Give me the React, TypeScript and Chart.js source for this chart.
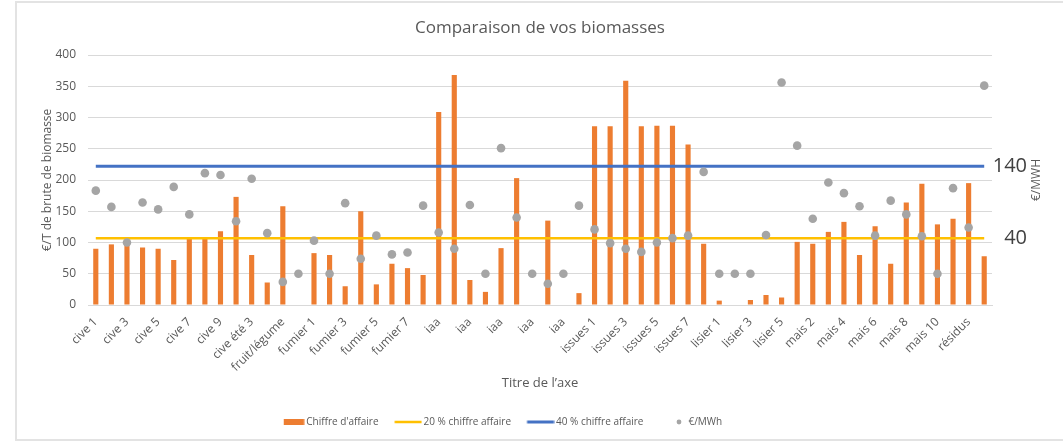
import React, { useEffect, useRef } from "react";
import { Chart, registerables } from "chart.js";

Chart.register(...registerables);
Chart.defaults.font.family = "'Open Sans', sans-serif";

const chartTitle = "Comparaison de vos biomasses";
const xAxisTitle = "Titre de l’axe";
const yAxisTitle = "€/T de brute de biomasse";
const rightAxisTitle = "€/MWH";

const categories = [
  "cive 1", "cive 2", "cive 3", "cive 4", "cive 5", "cive 6", "cive 7", "cive 8", "cive 9", "cive été 2",
  "cive été 3", "cive été 4", "fruit/légume", "fruit/légume 2", "fumier 1", "fumier 2", "fumier 3", "fumier 4", "fumier 5", "fumier 6",
  "fumier 7", "fumier 8", "iaa", "iaa", "iaa", "iaa", "iaa", "iaa", "iaa", "iaa",
  "iaa", "iaa", "issues 1", "issues 2", "issues 3", "issues 4", "issues 5", "issues 6", "issues 7", "issues 8",
  "lisier 1", "lisier 2", "lisier 3", "lisier 4", "lisier 5", "mais 1", "mais 2", "mais 3", "mais 4", "mais 5",
  "mais 6", "mais 7", "mais 8", "mais 9", "mais 10", "mais 11", "résidus", "résidus 2",
];

const chiffreAffaire = [
  90, 97, 103, 92, 90, 72, 107, 106, 118, 173,
  80, 36, 158, null, 83, 80, 30, 150, 33, 66,
  59, 48, 309, 368, 40, 21, 91, 203, null, 135,
  null, 19, 286, 286, 359, 286, 287, 287, 257, 98,
  7, null, 8, 16, 12, 101, 98, 117, 133, 80,
  126, 66, 164, 194, 129, 138, 195, 78,
];

const eurosParMWh = [
  183, 157, 100, 164, 153, 189, 145, 211, 208, 134,
  202, 115, 37, 50, 103, 50, 163, 74, 111, 81,
  84, 159, 116, 90, 160, 50, 251, 140, 50, 34,
  50, 159, 121, 99, 90, 85, 100, 107, 111, 213,
  50, 50, 50, 112, 356, 255, 138, 196, 179, 158,
  111, 167, 145, 110, 50, 187, 124, 351,
];

const seuil20 = 107;
const seuil40 = 222;
const seuil20Points = [
  { x: "cive 1", y: seuil20 },
  { x: "résidus 2", y: seuil20 },
];
const seuil40Points = [
  { x: "cive 1", y: seuil40 },
  { x: "résidus 2", y: seuil40 },
];

const yMin = 0;
const yMax = 400;
const yStep = 50;
const rightTickValues = [seuil20, seuil40];
const rightTickLabels = ["40", "140"];
const legendLabels = ["Chiffre d'affaire", "20 % chiffre affaire", "40 % chiffre affaire", "€/MWh"];

const ORANGE = "#ED7D31";
const YELLOW = "#FFC000";
const BLUE = "#4472C4";
const GRAY = "#A5A5A5";
const TEXT = "#595959";
const GRID = "#d9d9d9";

function makeMarker(draw: (ctx: CanvasRenderingContext2D) => void) {
  const c = document.createElement("canvas");
  c.width = 29;
  c.height = 8;
  const ctx = c.getContext("2d")!;
  draw(ctx);
  return c;
}

export default function App() {
  const ref = useRef<HTMLCanvasElement>(null);

  useEffect(() => {
    const canvas = ref.current;
    if (!canvas) return;

    const markers = [
      makeMarker((ctx) => { ctx.fillStyle = ORANGE; ctx.fillRect(8, 1, 20.5, 6); }),
      makeMarker((ctx) => { ctx.fillStyle = YELLOW; ctx.fillRect(1.5, 2.75, 27, 2.5); }),
      makeMarker((ctx) => { ctx.fillStyle = BLUE; ctx.fillRect(1.5, 2.5, 27, 3); }),
      makeMarker((ctx) => { ctx.fillStyle = GRAY; ctx.beginPath(); ctx.arc(21, 4, 2.4, 0, Math.PI * 2); ctx.fill(); }),
    ];

    const legendPlace = {
      id: "legendPlace",
      afterLayout(chart: any) {
        const lg = chart.legend;
        if (!lg) return;
        const w = lg.right - lg.left;
        lg.left = 261.2;
        lg.right = lg.left + w;
      },
    };

    const rightTitle = {
      id: "rightTitle",
      afterDraw(chart: any) {
        const ctx = chart.ctx;
        const a = chart.chartArea;
        ctx.save();
        ctx.translate(1036.7, (a.top + a.bottom) / 2);
        ctx.rotate(-Math.PI / 2);
        ctx.font = "12px 'Open Sans', sans-serif";
        ctx.fillStyle = TEXT;
        ctx.textAlign = "center";
        ctx.textBaseline = "middle";
        ctx.fillText(rightAxisTitle, 0, 0);
        ctx.restore();
      },
    };

    const chart = new Chart(canvas, {
      type: "bar",
      data: {
        labels: categories,
        datasets: [
          {
            type: "bar",
            label: legendLabels[0],
            data: chiffreAffaire as any,
            backgroundColor: ORANGE,
            barPercentage: 0.33,
            categoryPercentage: 1,
            order: 4,
            yAxisID: "y",
          },
          {
            type: "line",
            label: legendLabels[1],
            data: seuil20Points as any,
            borderColor: YELLOW,
            backgroundColor: YELLOW,
            borderWidth: 2.5,
            pointRadius: 0,
            fill: false,
            order: 3,
            yAxisID: "y",
          },
          {
            type: "line",
            label: legendLabels[2],
            data: seuil40Points as any,
            borderColor: BLUE,
            backgroundColor: BLUE,
            borderWidth: 3,
            pointRadius: 0,
            fill: false,
            order: 2,
            yAxisID: "y",
          },
          {
            type: "line",
            label: legendLabels[3],
            data: eurosParMWh,
            showLine: false,
            pointRadius: 4.3,
            pointBackgroundColor: GRAY,
            pointBorderColor: GRAY,
            pointBorderWidth: 0,
            order: 1,
            yAxisID: "y",
          },
        ] as any,
      },
      options: {
        responsive: false,
        animation: false,
        layout: { padding: { left: 36, right: 36, top: 0, bottom: 5 } },
        plugins: {
          title: {
            display: true,
            text: chartTitle,
            fullSize: false,
            color: TEXT,
            font: { size: 17, weight: "normal" },
            padding: { top: 18, bottom: 16.6 },
          },
          legend: {
            position: "bottom",
            align: "start",
            labels: {
              usePointStyle: true,
              pointStyleWidth: 22,
              padding: 18,
              color: TEXT,
              font: { size: 10 },
              generateLabels: () =>
                legendLabels.map((text, i) => ({
                  text,
                  pointStyle: markers[i],
                  fillStyle: "transparent",
                  strokeStyle: "transparent",
                  lineWidth: 0,
                  hidden: false,
                  datasetIndex: i,
                  fontColor: TEXT,
                })) as any,
            },
          },
          tooltip: { enabled: false },
        },
        scales: {
          x: {
            type: "category",
            offset: true,
            grid: { display: false, drawTicks: false },
            border: { display: true, color: GRID },
            ticks: {
              autoSkip: false,
              minRotation: 45,
              maxRotation: 45,
              padding: 10,
              color: TEXT,
              font: { size: 12 },
              callback: (_v: any, i: number) => (i % 2 === 0 ? categories[i] : ""),
            },
            title: {
              display: true,
              text: xAxisTitle,
              color: TEXT,
              font: { size: 13 },
              padding: { top: 4, bottom: 8.2 },
            },
            afterFit: (s: any) => { s.height = 94; },
          },
          y: {
            type: "linear",
            position: "left",
            min: yMin,
            max: yMax,
            ticks: { stepSize: yStep, padding: 12, color: TEXT, font: { size: 12 } },
            grid: { color: GRID, drawTicks: false },
            border: { display: false },
            title: {
              display: true,
              text: yAxisTitle,
              color: TEXT,
              font: { size: 12 },
              padding: { top: 4, bottom: 4 },
            },
            afterFit: (s: any) => { s.width = 52; },
          },
          y2: {
            type: "linear",
            position: "right",
            min: yMin,
            max: yMax,
            grid: { display: false, drawTicks: false },
            border: { display: false },
            ticks: {
              padding: 1,
              crossAlign: "far",
              color: "#404040",
              font: { size: 20 },
              callback: (_v: any, i: number) => rightTickLabels[i],
            },
            afterBuildTicks: (s: any) => { s.ticks = rightTickValues.map((v) => ({ value: v })); },
            afterFit: (s: any) => { s.width = 35; },
          },
        },
      } as any,
      plugins: [legendPlace, rightTitle],
    });

    return () => chart.destroy();
  }, []);

  return (
    <div style={{ position: "absolute", left: 0, top: 0, width: 1063, height: 442, overflow: "hidden", background: "#fff" }}>
      <div style={{ position: "absolute", left: 15, top: 1, width: 1100, height: 440, border: "2px solid #e3e3e3", boxSizing: "border-box" }} />
      <canvas ref={ref} width={1063} height={442} style={{ position: "absolute", left: 0, top: 0, width: 1063, height: 442 }} />
    </div>
  );
}
